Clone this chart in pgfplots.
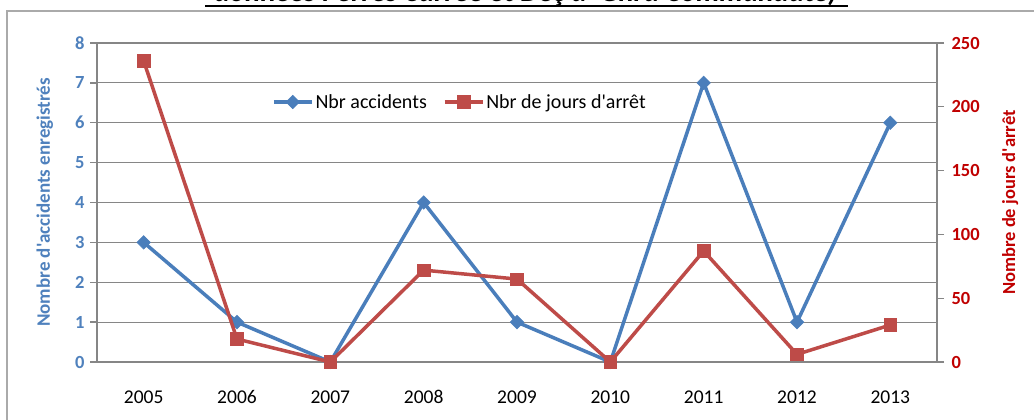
\documentclass[border=0pt]{standalone}
\usepackage{pgfplots}
\pgfplotsset{compat=1.18}
\usepackage{fontspec}
\setmainfont{Carlito}
\definecolor{blueline}{RGB}{74,126,187}
\definecolor{redline}{RGB}{190,75,72}
\definecolor{bluetext}{RGB}{79,129,189}
\definecolor{redtext}{RGB}{192,0,0}
\definecolor{gridgray}{RGB}{134,134,134}
\definecolor{framegray}{RGB}{170,170,170}
\begin{document}
\begin{tikzpicture}[x=1bp,y=1bp]
\useasboundingbox (0,0) rectangle (1034,419);
\fill[white] (0,0) rectangle (1034,419);
\draw[framegray, line width=1.3bp] (7,-5) -- (7,408) -- (1040,408);
\node[anchor=base, font=\fontsize{29bp}{33bp}\selectfont\bfseries\itshape, inner sep=0pt] at (526,417) {données Perres Carrée et Deç d\textquotesingle{} Ghra Communauté)};
\draw[black, line width=2bp] (205,413) -- (848,413);
\begin{axis}[
  at={(97bp,57bp)}, anchor=south west,
  scale only axis, width=840bp, height=319bp,
  xmin=-0.5, xmax=8.5, ymin=0, ymax=8,
  axis x line*=bottom, axis y line*=left,
  axis line style={gridgray, line width=1.3bp},
  xtick={0,1,2,3,4,5,6,7,8},
  xticklabels={2005,2006,2007,2008,2009,2010,2011,2012,2013},
  extra x ticks={-0.5,0.5,1.5,2.5,3.5,4.5,5.5,6.5,7.5,8.5},
  extra x tick labels={},
  extra x tick style={tick style={gridgray, line width=1.3bp}, xmajorgrids=false},
  x tick style={draw=none},
  ytick={0,...,8},
  y tick style={gridgray, line width=1.3bp},
  major tick length=7bp,
  tick align=outside,
  ymajorgrids, grid style={gridgray, line width=1.2bp},
  xmajorgrids=false,
  /pgf/number format/assume math mode=true,
  xticklabel style={font=\fontsize{19.5bp}{22bp}\selectfont, black, anchor=north, text height=13bp, text depth=0bp, inner sep=0pt, yshift=-21bp},
  yticklabel style={font=\fontsize{18.5bp}{22bp}\selectfont\bfseries, text=bluetext, xshift=-2bp},
  ylabel={Nombre d\textquotesingle{}accidents enregistrés},
  ylabel style={at={(axis description cs:-0.062,0.5)}, anchor=center, font=\fontsize{19bp}{22bp}\selectfont\bfseries, text=bluetext},
]
\addplot[blueline, line width=3.5bp, mark=square*, mark size=4.8bp, mark options={rotate=45, line width=0.5bp, fill=blueline, draw=blueline}]
coordinates {(0,3) (1,1) (2,0) (3,4) (4,1) (5,0) (6,7) (7,1) (8,6)};
\end{axis}
\begin{axis}[
  at={(97bp,57bp)}, anchor=south west,
  scale only axis, width=840bp, height=319bp,
  xmin=-0.5, xmax=8.5, ymin=0, ymax=250,
  axis x line=none, axis y line*=right,
  axis line style={gridgray, line width=1.3bp},
  ytick={0,50,...,250},
  y tick style={gridgray, line width=1.3bp},
  major tick length=7bp,
  tick align=outside,
  /pgf/number format/assume math mode=true,
  yticklabel style={font=\fontsize{18.5bp}{22bp}\selectfont\bfseries, text=redtext, xshift=4bp},
  ylabel={Nombre de jours d\textquotesingle{}arrêt},
  ylabel style={at={(axis description cs:1.087,0.5)}, anchor=center, font=\fontsize{18.5bp}{22bp}\selectfont\bfseries, text=redtext},
  legend style={at={(axis description cs:0.432,0.815)}, anchor=center, draw=none, fill=none,
    font=\fontsize{20bp}{22bp}\selectfont, legend columns=2,
    /tikz/every even column/.append style={column sep=14bp}},
  legend image code/.code={%
    \draw[#1, mark repeat=2, mark phase=2] plot coordinates {(0bp,0bp) (19bp,0bp) (38bp,0bp)};},
]
\addlegendimage{blueline, line width=3.5bp, mark=square*, mark size=4.8bp, mark options={rotate=45, line width=0.5bp, fill=blueline, draw=blueline}}
\addlegendentry{Nbr accidents}
\addplot[redline, line width=3.5bp, mark=square*, mark size=6.3bp, mark options={line width=0.5bp, fill=redline, draw=redline}]
coordinates {(0,236) (1,18) (2,0) (3,72) (4,65) (5,0) (6,87) (7,6) (8,29)};
\addlegendentry{Nbr de jours d\textquotesingle{}arrêt}
\end{axis}
\end{tikzpicture}
\end{document}
